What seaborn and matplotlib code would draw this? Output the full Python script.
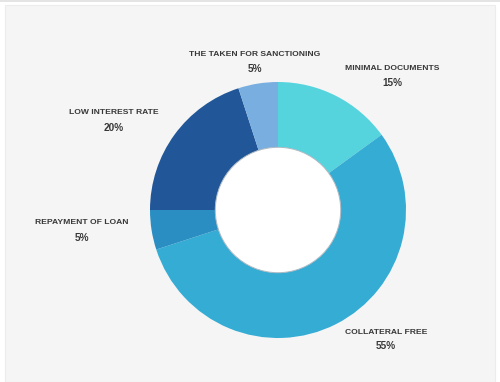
import matplotlib
matplotlib.use("Agg")
import matplotlib.pyplot as plt
import seaborn as sns
from matplotlib.patches import Rectangle, Circle

# ---- data ----
categories = ["Minimal Documents", "Collateral Free", "Repayment of Loan",
              "Low Interest Rate", "The taken for sanctioning"]
values = [15, 55, 5, 20, 5]
pct_labels = ["15%", "55%", "5%", "20%", "5%"]
colors = ["#55d4dd", "#35acd4", "#2a8ec3", "#215799", "#78aee0"]

sns.set_theme(style="white")
plt.rcParams["font.family"] = ["Liberation Sans", "DejaVu Sans"]

fig = plt.figure(figsize=(5.0, 3.82), dpi=100)
fig.patch.set_facecolor("white")

ax = fig.add_axes([0, 0, 1, 1])
ax.set_facecolor("none")

# light panel + top rule (axes spans the whole figure)
ax.add_patch(Rectangle((5 / 500, 0), 490 / 500, 377 / 382,
                       transform=ax.transAxes, facecolor="#f5f5f5",
                       edgecolor="#ececec", lw=0.8, zorder=-2))
ax.add_patch(Rectangle((0, 380 / 382), 1, 2 / 382,
                       transform=ax.transAxes, facecolor="#e4e4e4",
                       edgecolor="none", zorder=-2))

# soft white halo behind donut
n = 14
for i in range(n):
    r = 1.38 - i * (0.38 / n)
    ax.add_patch(Circle((0, 0), r, facecolor="white", edgecolor="none",
                        alpha=0.09, zorder=0))

wedges, _ = ax.pie(values, colors=colors, startangle=90, counterclock=False,
                   radius=1.0, wedgeprops=dict(width=0.51, edgecolor="none"))
for w in wedges:
    w.set_zorder(2)
ax.add_patch(Circle((0, 0), 0.49, facecolor="white", edgecolor="#aab8c2",
                    lw=0.7, zorder=3))

# label placement in data units (px -> data: (px-278)/128, (210-py)/128)
def d(px, py):
    return (px - 278) / 128, (210 - py) / 128

label_pos = [(392, 69, 83), (386, 332, 346), (82, 223, 238),
             (114, 113, 128), (255, 55, 69)]
for cat, pct, (px, py1, py2) in zip(categories, pct_labels, label_pos):
    x1, y1 = d(px, py1)
    x2, y2 = d(px, py2)
    ax.text(x1, y1, cat.upper(), ha="center", va="center", fontsize=6.1,
            fontweight="bold", color="#383838", zorder=4)
    ax.text(x2, y2, pct, ha="center", va="center", fontsize=7.2,
            fontweight="bold", color="#383838", zorder=4)

ax.set_xlim(-278 / 128, 222 / 128)
ax.set_ylim(-(382 - 210) / 128, 210 / 128)
ax.set_aspect("equal")
ax.axis("off")

fig.savefig("out.png", dpi=100, facecolor="white")
